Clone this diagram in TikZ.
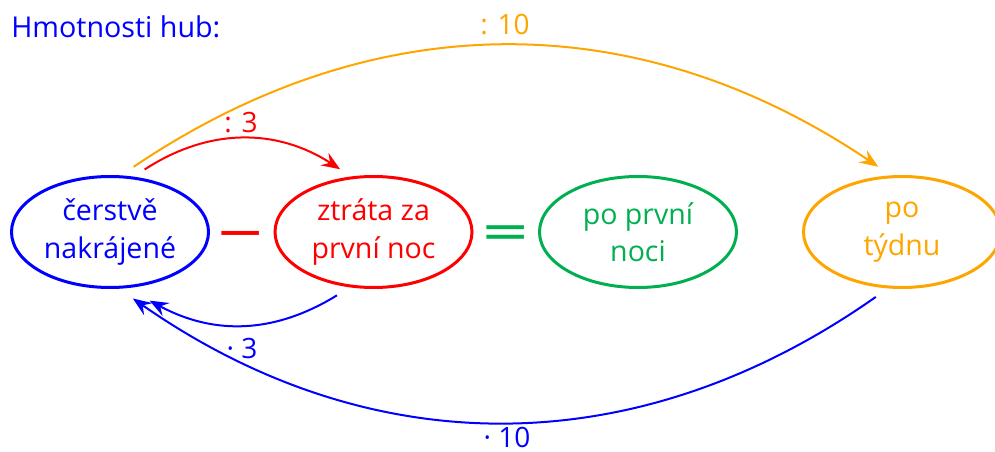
\documentclass[tikz,border=0pt]{standalone}
\usepackage{fontspec}
\usepackage{graphicx}
\setmainfont{Open Sans}
\newfontfamily\symfont{DejaVu Sans}
\usetikzlibrary{arrows.meta,calc,shapes.geometric}
\definecolor{cblue}{RGB}{0,0,255}
\definecolor{cred}{RGB}{255,0,0}
\definecolor{cgreen}{RGB}{0,176,80}
\definecolor{corange}{RGB}{255,165,0}
\begin{document}
\begin{tikzpicture}[x=0.75pt,y=-0.75pt,
  oval/.style={ellipse, draw, line width=2.25pt, minimum width=147.75pt, minimum height=83.25pt, inner sep=0pt, outer sep=0pt, align=center, font=\fontsize{21.4}{28}\selectfont},
  conn/.style={line width=1.5pt, -{Stealth[length=14pt,width=11pt,inset=5pt]}},
  lbl/.style={font=\fontsize{21}{27}\selectfont, inner sep=0pt},
  sym/.style={font=\symfont\fontsize{36}{36}\selectfont, inner sep=0pt, anchor=base}]
\useasboundingbox (0,0) rectangle (995,452);
\node[anchor=base west, inner sep=0pt, text=cblue, font=\fontsize{21.5}{27}\selectfont] (title) at (11,37.7) {Hmotnosti hub:};
\node[oval, draw=cblue, text=cblue] (blue) at (110,232) {čerstvě\\nakrájené};
\node[oval, draw=cred, text=cred] (red) at (373.5,232) {ztráta za\\první noc};
\node[oval, draw=cgreen, text=cgreen] (green) at (638,232) {po první\\noci};
\node[oval, draw=corange, text=corange] (orange) at (902,232) {po\\týdnu};
\node[sym, text=cred] (minus) at (241,248) {\scalebox{1.25}[1]{−}};
\node[sym, text=cgreen] (equals) at (505.5,247.5) {\scalebox{1.25}[1]{=}};
\draw[conn, cred] ($(blue.center)!1.18!(blue.61)$) to[bend left=33] ($(red.center)!1.18!(red.118)$);
\draw[conn, corange] ($(blue.center)!1.2!(blue.70)$) to[bend left=34] ($(orange.center)!1.2!(orange.110)$);
\draw[conn, cblue] ($(red.center)!1.2!(red.240)$) to[bend left=30] ($(blue.center)!1.3!(blue.300)$);
\draw[conn, cblue] ($(orange.center)!1.2!(orange.248)$) to[bend left=35] ($(blue.center)!1.22!(blue.289)$);
\node[lbl, text=cred] (l3a) at (241,123) {: 3};
\node[lbl, text=corange] (l10a) at (505,25) {: 10};
\node[lbl, text=cblue] (l3b) at (242,348) {· 3};
\node[lbl, text=cblue] (l10b) at (507,437) {· 10};
\end{tikzpicture}
\end{document}
